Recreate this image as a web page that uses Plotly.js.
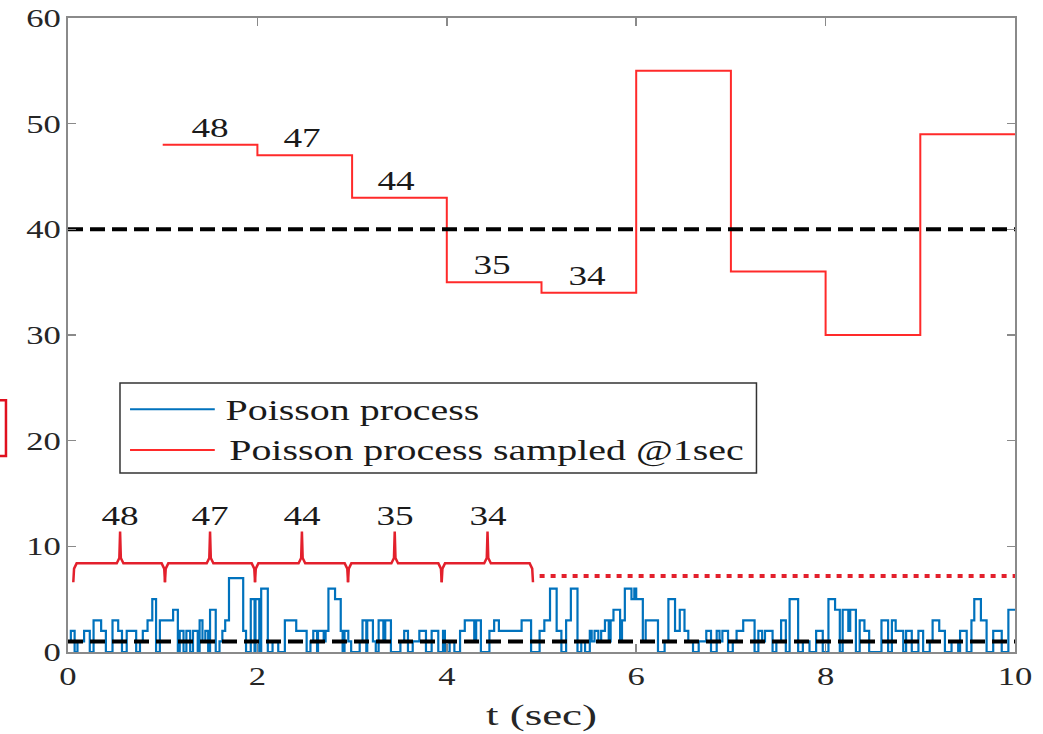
<!DOCTYPE html>
<html>
<head>
<meta charset="utf-8">
<script src="https://cdn.plot.ly/plotly-3.0.1.min.js"></script>
<style>html,body{margin:0;padding:0;background:#fff;}#chart{width:1043px;height:734px;}</style>
</head>
<body>
<div id="chart"></div>
<script>
// ---- data ----
var poissonT = [0.00,0.03,0.07,0.10,0.17,0.23,0.27,0.35,0.40,0.47,0.53,0.57,0.62,0.72,0.76,0.79,0.84,0.89,0.93,0.97,
1.11,1.16,1.18,1.22,1.25,1.29,1.32,1.37,1.39,1.42,1.45,1.48,1.50,1.56,1.60,1.63,1.66,1.70,1.85,1.88,1.93,1.97,1.98,
2.02,2.04,2.11,2.16,2.22,2.29,2.41,2.52,2.56,2.59,2.63,2.64,2.70,2.72,2.75,2.82,2.88,2.90,2.92,2.96,2.99,
3.08,3.11,3.15,3.16,3.22,3.25,3.28,3.33,3.35,3.41,3.51,3.55,3.59,3.64,3.71,3.78,3.84,3.91,3.96,3.98,
4.03,4.08,4.14,4.19,4.29,4.31,4.36,4.45,4.50,4.55,4.79,4.89,4.98,
5.03,5.09,5.16,5.21,5.26,5.31,5.38,5.42,5.46,5.51,5.53,5.56,5.60,5.63,5.67,5.71,5.73,5.76,5.83,5.85,5.88,5.95,5.98,
6.00,6.07,6.10,6.23,6.30,6.34,6.41,6.46,6.51,6.55,6.60,6.66,6.74,6.79,6.85,6.88,6.91,6.97,
7.02,7.06,7.13,7.25,7.29,7.33,7.36,7.44,7.48,7.53,7.58,7.62,7.71,7.76,7.83,7.90,7.97,
8.03,8.10,8.15,8.18,8.24,8.26,8.32,8.36,8.41,8.46,8.59,8.66,8.70,8.74,8.82,8.85,8.91,8.98,
9.03,9.10,9.13,9.20,9.26,9.33,9.40,9.42,9.49,9.54,9.57,9.64,9.70,9.77,9.86,9.93,10.00];
var poissonV = [1,2,0,1,2,0,3,2,0,3,2,0,2,0,1,2,3,5,0,3,
4,0,2,0,2,0,2,0,3,1,2,0,4,0,1,2,3,7,2,0,5,0,5,
0,6,0,1,0,3,2,0,1,2,0,2,1,2,6,5,2,0,2,1,0,
1,3,0,3,1,0,3,1,3,0,1,2,0,1,2,0,2,0,2,0,
1,0,2,3,1,3,0,2,3,2,3,0,2,
3,6,2,0,3,6,0,1,0,2,1,2,1,2,3,1,3,4,1,3,6,5,6,
5,1,3,0,1,5,2,4,2,1,0,1,2,0,2,1,2,0,
1,2,3,0,2,1,2,0,1,3,0,5,0,1,0,2,0,
5,4,0,4,2,4,0,3,2,0,3,0,3,2,0,2,0,2,
0,1,3,2,0,1,0,2,0,3,5,3,0,2,0,4,4];

var sampleT = [1,2,3,4,5,6,7,8,9,10];
var sampledV = [48,47,43,35,34,55,36,30,49,49];
var sampleLabels = ["48","47","44","35","34"];
var labelT = [1.5,2.47,3.46,4.48,5.48];

var braceStart = [0.056,1.024,1.975,2.957,3.946];
var braceEnd   = [1.024,1.975,2.957,3.946,4.91];
var braceTip   = [0.55,1.5,2.47,3.45,4.43];

var highThreshold = 40;
var lowThreshold = 1;
var dottedLevel = 7.2;
var dottedStart = 4.98;

var seriesNames = ["Poisson process", "Poisson process sampled @1sec"];
var xTicks = [0,2,4,6,8,10];
var yTicks = [0,10,20,30,40,50,60];

// ---- build brace paths ----
var bLow = 6.6, bMid = 8.39, bTop = 11.4;
var bx = [], by = [];
for (var i = 0; i < braceStart.length; i++) {
  var a = braceStart[i], b = braceEnd[i], c = braceTip[i];
  bx.push(a, a+0.008, a+0.035, c-0.035, c-0.008, c, c+0.008, c+0.035, b-0.035, b-0.008, b, null);
  by.push(bLow, bMid-0.5, bMid, bMid, bMid+0.5, bTop, bMid+0.5, bMid, bMid, bMid-0.5, bLow, null);
}

var serif = "'Liberation Serif', 'Times New Roman', serif";
var blue = "#0072BD", red = "#ff2a2a", braceRed = "#e3202c";

var traces = [
  {x: poissonT, y: poissonV, mode: "lines", line: {shape: "hv", color: blue, width: 2.2}, name: seriesNames[0], showlegend: false, hoverinfo: "skip"},
  {x: sampleT, y: sampledV, mode: "lines", line: {shape: "hv", color: red, width: 2}, name: seriesNames[1], showlegend: false, hoverinfo: "skip"},
  {x: [0, 10], y: [highThreshold, highThreshold], mode: "lines", line: {color: "#000", width: 4, dash: "15px,7px"}, showlegend: false, hoverinfo: "skip"},
  {x: [0, 10], y: [lowThreshold, lowThreshold], mode: "lines", line: {color: "#000", width: 4, dash: "15px,7px"}, showlegend: false, hoverinfo: "skip"},
  {x: bx, y: by, mode: "lines", line: {color: braceRed, width: 2.5}, showlegend: false, hoverinfo: "skip", connectgaps: false},
  {x: [dottedStart, 10], y: [dottedLevel, dottedLevel], mode: "lines", line: {color: braceRed, width: 4, dash: "5px,6px"}, showlegend: false, hoverinfo: "skip"}
];

var annotations = [];
for (var j = 0; j < sampleLabels.length; j++) {
  annotations.push({x: labelT[j], y: sampledV[j], xref: "x", yref: "y", text: sampleLabels[j], showarrow: false,
    yanchor: "bottom", yshift: 0, font: {family: serif, size: 28, color: "#1a1a1a"}});
  annotations.push({x: braceTip[j], y: bTop, xref: "x", yref: "y", text: sampleLabels[j], showarrow: false,
    yanchor: "bottom", yshift: -1, font: {family: serif, size: 28, color: "#1a1a1a"}});
}
// custom legend text (centred so the horizontal stretch keeps it in place)
var legY = [0.383, 0.3186];
var legTextCenter = [0.3005, 0.4414];
for (var k = 0; k < seriesNames.length; k++) {
  annotations.push({x: legTextCenter[k], y: legY[k], xref: "paper", yref: "paper", text: seriesNames[k], showarrow: false,
    xanchor: "center", yanchor: "middle", font: {family: serif, size: 30, color: "#1a1a1a"}});
}

var shapes = [
  {type: "rect", xref: "paper", yref: "paper", x0: 0.0549, x1: 0.727, y0: 0.2823, y1: 0.4243, line: {color: "#333", width: 1.5}, fillcolor: "#fff", layer: "above"},
  {type: "line", xref: "paper", yref: "paper", x0: 0.0655, x1: 0.155, y0: legY[0], y1: legY[0], line: {color: blue, width: 2}},
  {type: "line", xref: "paper", yref: "paper", x0: 0.0655, x1: 0.155, y0: legY[1], y1: legY[1], line: {color: red, width: 2}},
  {type: "path", xref: "paper", yref: "paper", path: "M -0.0730 0.397 L -0.0655 0.397 L -0.0655 0.309 L -0.0730 0.309", line: {color: "#e0101e", width: 2.5}}
];

var axisCommon = {
  showgrid: false, zeroline: false, showline: true, mirror: "ticks", linecolor: "#8a8a8a", linewidth: 2,
  ticks: "inside", ticklen: 8, tickwidth: 1.5, tickcolor: "#8a8a8a",
  tickfont: {family: serif, size: 26, color: "#262626"}
};

var layout = {
  width: 1043, height: 734,
  margin: {l: 68, r: 28, t: 18, b: 82},
  paper_bgcolor: "#fff", plot_bgcolor: "#fff",
  showlegend: false,
  xaxis: Object.assign({}, axisCommon, {range: [0, 10], tickvals: xTicks, ticktext: xTicks.map(String),
    title: {text: "t (sec)", font: {family: serif, size: 30, color: "#262626"}, standoff: 14}}),
  yaxis: Object.assign({}, axisCommon, {range: [0, 60], tickvals: yTicks, ticktext: yTicks.map(String)}),
  annotations: annotations,
  shapes: shapes
};

// The reference's lettering is horizontally stretched; widen text glyphs to match.
function stretchText(gd) {
  var texts = gd.querySelectorAll("svg text");
  texts.forEach(function (t) {
    var f = 1.33;
    if (t.classList.contains("xtitle")) f = 1.5;
    var len = t.getComputedTextLength();
    if (len > 0) {
      t.setAttribute("textLength", (len * f).toFixed(1));
      t.setAttribute("lengthAdjust", "spacingAndGlyphs");
    }
  });
}

Plotly.newPlot("chart", traces, layout, {staticPlot: true}).then(stretchText);
</script>
</body>
</html>
